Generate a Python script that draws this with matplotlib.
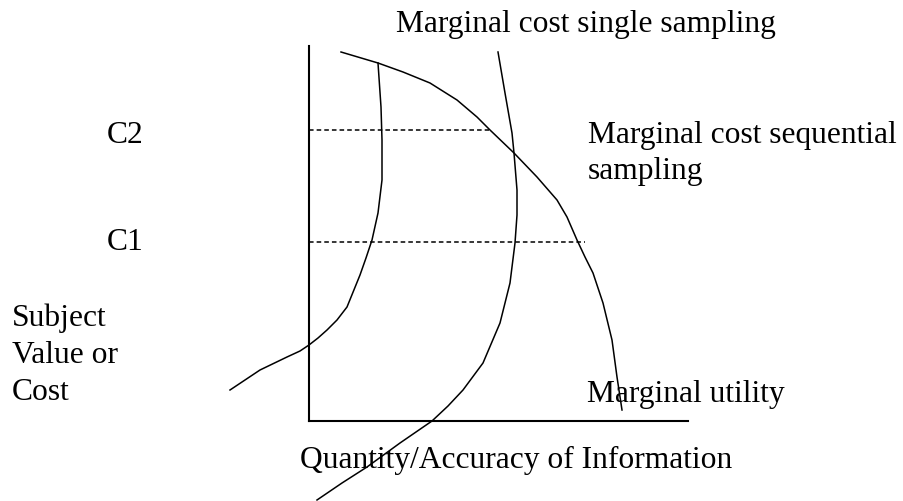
import matplotlib.pyplot as plt

# all coordinates (pixel units, y downwards)
utility_x = [341, 378, 403, 430, 457, 477, 490, 514, 537, 557, 567, 577, 585, 593, 603, 612, 617, 622]
utility_y = [52, 63, 72, 83, 100, 117, 130, 153, 177, 200, 217, 240, 257, 273, 303, 340, 377, 410]

left_x = [378, 381, 382, 382, 378, 372, 366, 360, 347, 337, 327, 318, 309, 300, 287, 260, 230]
left_y = [63, 107, 140, 180, 213, 240, 258, 275, 307, 320, 330, 338, 345, 351, 357, 370, 390]

mid_x = [498, 505, 512, 514, 517, 517, 515, 510, 500, 483, 463, 448, 432, 400, 367, 342, 317]
mid_y = [52, 93, 133, 153, 190, 215, 243, 283, 323, 363, 390, 406, 421, 443, 467, 483, 500]

axis_origin = (309, 421)
axis_top = 46
axis_right = 688

c_levels = [242, 130]
c_labels = ['C1', 'C2']
c_ends = [585, 489]
c_baselines = [250, 143]

plt.rcParams['font.family'] = ['Liberation Serif', 'DejaVu Serif']

fig = plt.figure(figsize=(9.04, 5.01), dpi=100)
ax = fig.add_axes([0, 0, 1, 1])
ax.set_xlim(0, 904)
ax.set_ylim(501, 0)
ax.axis('off')

# axes of the sketch
ax.plot([axis_origin[0], axis_origin[0]], [axis_top, axis_origin[1]], color='black', lw=1.5)
ax.plot([axis_origin[0], axis_right], [axis_origin[1], axis_origin[1]], color='black', lw=1.5)

fs = 22.7

# cost levels
for lvl, lab, end, base in zip(c_levels, c_labels, c_ends, c_baselines):
	ax.plot([axis_origin[0], end], [lvl, lvl], color='black', lw=1.1, dashes=(3, 2))
	ax.text(107, base, lab, fontsize=fs, va='baseline', ha='left')

for xs, ys in [(utility_x, utility_y), (left_x, left_y), (mid_x, mid_y)]:
	ax.plot(xs, ys, color='black', lw=1.1, solid_joinstyle='round')

ax.text(396, 32, 'Marginal cost single sampling', fontsize=fs, va='baseline', ha='left')
ax.text(588, 143, 'Marginal cost sequential', fontsize=fs, va='baseline', ha='left')
ax.text(588, 179, 'sampling', fontsize=fs, va='baseline', ha='left')
ax.text(587, 402, 'Marginal utility', fontsize=fs, va='baseline', ha='left')
ax.text(300, 468, 'Quantity/Accuracy of Information', fontsize=fs, va='baseline', ha='left')
ax.text(12, 326, 'Subject', fontsize=fs, va='baseline', ha='left')
ax.text(12, 363, 'Value or', fontsize=fs, va='baseline', ha='left')
ax.text(12, 400, 'Cost', fontsize=fs, va='baseline', ha='left')

fig.savefig('out.png', dpi=100)
